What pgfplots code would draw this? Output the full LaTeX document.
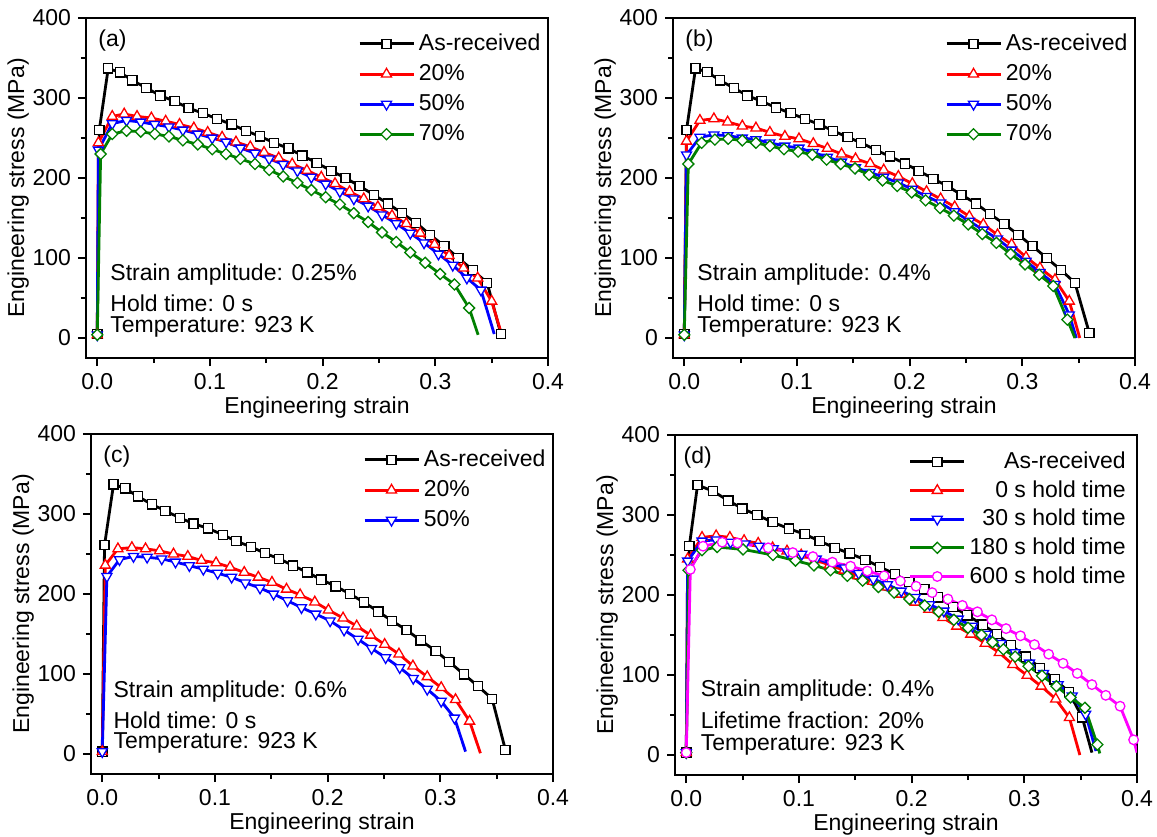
\documentclass[border=0pt]{standalone}
\usepackage{pgfplots}
\pgfplotsset{compat=1.18}
\usepackage{fontspec}
\setmainfont{Liberation Sans}
\newcommand\pfont{\fontsize{11.5}{13.8}\selectfont}
\definecolor{cgreen}{RGB}{0,128,0}
\definecolor{cmag}{RGB}{255,0,255}

\tikzset{note/.style={anchor=west, font=\pfont, inner sep=0pt}}
\pgfplotsset{
  panel/.style={
    scale only axis, width=231pt, height=170pt,
    xmin=-0.01, xmax=0.4, ymin=-25, ymax=400,
    xtick={0,0.1,0.2,0.3,0.4}, ytick={0,100,200,300,400},
    minor x tick num=1, minor y tick num=1,
    tick align=outside, tick pos=left,
    major tick length=4pt, minor tick length=2.5pt,
    axis line style={line width=1pt},
    tick style={black, line width=0.9pt},
    xticklabel style={/pgf/number format/.cd, fixed, fixed zerofill, precision=1},
    /pgf/number format/assume math mode=true,
    tick label style={font=\pfont},
    label style={font=\pfont},
    xlabel={Engineering strain}, ylabel={Engineering stress (MPa)},
    xlabel style={at={(axis description cs:0.5,-0.145)}, anchor=center},
    ylabel style={at={(axis description cs:-0.147,0.5)}, anchor=center},
    legend style={draw=none, fill=none, font=\pfont, inner sep=0pt,
      at={(rel axis cs:0.993,0.966)}, anchor=north east, row sep=1.5pt},
    legend cell align=left,
    legend image code/.code={\draw[mark repeat=2,mark phase=2,##1]
      plot coordinates {(0pt,0pt) (13.5pt,0pt) (27pt,0pt)};},
  },
  base/.style={line width=1.4pt},
  mk/.style={mark options={solid, fill=white, line width=0.65pt, #1}},
  mk/.default={},
  sAR/.style={base, black, mark=square*, mark size=2.3pt, mk},
  s20/.style={base, red, mark=triangle*, mark size=2.9pt, mk},
  s50/.style={base, blue, mark=triangle*, mark size=2.9pt, mk={rotate=180}},
  s70/.style={base, cgreen, mark=square*, mark size=1.95pt, mk={rotate=45}},
  s600/.style={base, cmag, mark=*, mark size=2.4pt, mk},
  tail/.style={base, #1, forget plot, no marks},
}

\begin{document}
\begin{tikzpicture}
\useasboundingbox (0,0) rectangle (578.5pt,-418pt);

% ---------------- (a) strain amplitude 0.25 %
\begin{axis}[panel, at={(43pt,-179pt)}, anchor=south west]
\addplot[sAR] coordinates {(0,5) (0.0018,260) (0.0097,337) (0.020,332) (0.0312,322) (0.0436,312.5) (0.056,303) (0.0686,296) (0.081,287.5) (0.0937,281) (0.1063,274) (0.1193,267) (0.132,259) (0.1446,252) (0.157,244) (0.1697,237) (0.182,228) (0.1947,219) (0.2077,209) (0.2203,200) (0.2327,190) (0.2454,179) (0.258,168) (0.2704,156) (0.283,144) (0.2954,129) (0.308,115) (0.3205,100) (0.3331,85) (0.346,69) (0.3582,5)};
\addlegendentry{As-received}
\addplot[tail=red] coordinates {(0.35,46) (0.3588,5)};
\addplot[s20] coordinates {(0,4) (0.001,244) (0.0133,277) (0.0239,280) (0.0353,277) (0.048,275) (0.0607,271) (0.073,267) (0.0857,262.5) (0.098,257) (0.1108,251) (0.1231,245) (0.1358,239) (0.148,232) (0.161,225) (0.173,217.5) (0.186,209.6) (0.1988,201) (0.211,193) (0.2239,183) (0.2365,174) (0.249,164) (0.2616,153) (0.2742,143) (0.2866,131) (0.2993,117) (0.3122,103) (0.325,87.5) (0.3376,75) (0.35,46)};
\addlegendentry{20\%}
\addplot[tail=blue] coordinates {(0.3405,60) (0.3523,5)};
\addplot[s50] coordinates {(0,4) (0.001,235) (0.0133,268) (0.026,272) (0.0386,270) (0.051,267) (0.0636,264) (0.076,260) (0.0892,255) (0.102,250) (0.1143,245) (0.127,237.5) (0.14,231) (0.1526,224) (0.165,217) (0.1776,209) (0.19,201) (0.2027,192.5) (0.2153,183) (0.2277,174) (0.2404,165) (0.2527,154) (0.2654,143) (0.2778,131) (0.29,119) (0.3028,105) (0.3155,91) (0.328,75) (0.3405,60)};
\addlegendentry{50\%}
\addplot[tail=cgreen] coordinates {(0.33,37.5) (0.338,4)};
\addplot[s70] coordinates {(0,4) (0.003,230) (0.0133,255) (0.026,259) (0.0386,258) (0.051,255) (0.0636,252) (0.076,247) (0.0892,242) (0.102,236) (0.1143,230) (0.127,224) (0.14,217.5) (0.1526,210) (0.165,202) (0.1776,194) (0.19,185) (0.2027,176) (0.2153,167) (0.2277,156) (0.2404,145) (0.2527,132) (0.2654,120) (0.2778,107) (0.291,94) (0.3043,80) (0.317,67) (0.33,37.5)};
\addlegendentry{70\%}
\node[note] at (rel axis cs:0.026,0.935) {(a)};
\node[note] at (rel axis cs:0.052,0.244) {Strain amplitude: 0.25\%};
\node[note] at (rel axis cs:0.052,0.162) {Hold time: 0 s};
\node[note] at (rel axis cs:0.052,0.091) {Temperature: 923 K};
\end{axis}

% ---------------- (b) strain amplitude 0.4 %
\begin{axis}[panel, at={(336.5pt,-179pt)}, anchor=south west]
\addplot[sAR] coordinates {(0,5) (0.002,260) (0.010,337) (0.0204,332.5) (0.0317,322) (0.044,312.5) (0.056,303) (0.0686,296) (0.0814,288) (0.0944,281) (0.107,274) (0.1198,267) (0.1322,259) (0.145,251) (0.157,244) (0.170,235) (0.1825,227) (0.196,218) (0.208,209) (0.221,199) (0.2334,190) (0.246,179) (0.259,168) (0.2713,155) (0.284,142.5) (0.2964,129) (0.309,115) (0.3216,100) (0.3343,85) (0.3467,69) (0.3595,6)};
\addlegendentry{As-received}
\addplot[tail=red] coordinates {(0.3417,46) (0.351,0)};
\addplot[s20] coordinates {(0,4) (0.002,246) (0.0139,272) (0.0263,274) (0.0385,270) (0.0515,265) (0.0636,262.5) (0.076,257) (0.0893,252) (0.1018,249) (0.1145,243) (0.127,237) (0.1396,230) (0.152,224) (0.165,218) (0.177,210) (0.19,202) (0.2024,193) (0.215,183) (0.2275,174) (0.240,164) (0.253,152) (0.2654,142) (0.278,129) (0.2905,117) (0.3033,101) (0.3157,87.5) (0.329,73) (0.3417,46)};
\addlegendentry{20\%}
\addplot[tail=blue] coordinates {(0.3417,29) (0.348,0)};
\addplot[s50] coordinates {(0,4) (0.002,229) (0.0139,251) (0.0263,254) (0.0385,253) (0.0515,250) (0.0636,248) (0.076,244) (0.0893,240) (0.1018,237.5) (0.1145,232) (0.127,226) (0.1396,220) (0.152,213) (0.165,207) (0.177,201) (0.19,194) (0.2024,186) (0.215,177) (0.2275,169) (0.240,158) (0.253,146) (0.2654,135) (0.278,124) (0.2905,110) (0.3033,96) (0.3157,82) (0.329,67) (0.3417,29)};
\addlegendentry{50\%}
\addplot[tail=cgreen] coordinates {(0.340,23) (0.3467,0)};
\addplot[s70] coordinates {(0,4) (0.0036,217.5) (0.0154,244) (0.0272,248) (0.039,249) (0.0515,247) (0.0636,244) (0.076,240) (0.0885,236) (0.101,233) (0.1136,229) (0.1263,223) (0.1388,217.5) (0.1515,212) (0.164,204) (0.176,197) (0.189,190) (0.2018,182) (0.2142,172) (0.227,162.5) (0.2393,153) (0.252,142) (0.2645,130) (0.277,119) (0.2896,105) (0.3024,92) (0.315,79) (0.3275,65) (0.340,23)};
\addlegendentry{70\%}
\node[note] at (rel axis cs:0.026,0.935) {(b)};
\node[note] at (rel axis cs:0.052,0.244) {Strain amplitude: 0.4\%};
\node[note] at (rel axis cs:0.052,0.162) {Hold time: 0 s};
\node[note] at (rel axis cs:0.052,0.091) {Temperature: 923 K};
\end{axis}

% ---------------- (c) strain amplitude 0.6 %
\begin{axis}[panel, at={(45.5pt,-387pt)}, anchor=south west]
\addplot[sAR] coordinates {(0,3) (0.002,261) (0.010,337) (0.0204,332) (0.0316,322) (0.044,312) (0.056,304) (0.069,295) (0.081,288) (0.094,282) (0.107,274) (0.119,266) (0.132,259) (0.1443,251) (0.157,244) (0.1694,235.5) (0.182,227) (0.1945,218) (0.2072,209.6) (0.22,200) (0.2323,189.5) (0.245,178) (0.257,166.5) (0.270,155) (0.2825,142) (0.2958,129) (0.308,115) (0.321,99.6) (0.3333,85) (0.346,69) (0.3578,5)};
\addlegendentry{As-received}
\addplot[tail=red] coordinates {(0.326,41) (0.3356,1)};
\addplot[s20] coordinates {(0,3) (0.0027,236) (0.0139,256.5) (0.0263,258) (0.0384,256.5) (0.0508,254) (0.0632,250) (0.0759,247) (0.088,242) (0.101,239) (0.1134,233.5) (0.126,227) (0.1385,221) (0.1506,214.6) (0.1635,206) (0.1756,199) (0.1886,190) (0.2007,180) (0.2137,170) (0.2258,160) (0.2382,148.5) (0.2506,137) (0.2633,125) (0.2757,110) (0.2884,96.6) (0.3008,83) (0.3135,68) (0.326,41)};
\addlegendentry{20\%}
\addplot[tail=blue] coordinates {(0.3126,45) (0.3224,3)};
\addplot[s50] coordinates {(0,3) (0.0041,222) (0.0153,243) (0.0277,247) (0.0398,246) (0.0528,244) (0.065,240) (0.0773,235.5) (0.0897,231) (0.1024,226) (0.1148,221) (0.127,214) (0.14,207.5) (0.152,200) (0.1644,191.6) (0.1768,183) (0.1895,175) (0.2022,166.5) (0.2146,155) (0.227,143.5) (0.239,132) (0.2515,120.5) (0.264,108) (0.276,94.6) (0.2884,81) (0.3008,66) (0.3126,45)};
\addlegendentry{50\%}
\node[note] at (rel axis cs:0.026,0.935) {(c)};
\node[note] at (rel axis cs:0.048,0.242) {Strain amplitude: 0.6\%};
\node[note] at (rel axis cs:0.048,0.159) {Hold time: 0 s};
\node[note] at (rel axis cs:0.048,0.091) {Temperature: 923 K};
\end{axis}

% ---------------- (d) hold time series
\begin{axis}[panel, at={(337.5pt,-387.5pt)}, anchor=south west, legend cell align=right,
  legend style={row sep=0.5pt, at={(rel axis cs:0.985,0.963)}}]
\addplot[tail=black] coordinates {(0.3514,47) (0.36,3)};
\addplot[sAR] coordinates {(0,3) (0.0027,261) (0.010,337.5) (0.0235,330) (0.0373,318) (0.0498,308) (0.063,300) (0.0766,291) (0.091,283) (0.105,276) (0.1183,267.5) (0.1317,259) (0.145,252) (0.159,244) (0.172,235) (0.1854,226) (0.198,216) (0.2113,207) (0.2235,197) (0.237,185) (0.2495,174.6) (0.263,163) (0.2757,151) (0.288,137) (0.3016,123) (0.314,109) (0.327,94.6) (0.3395,79) (0.3514,47)};
\addlegendentry{As-received}
\addplot[tail=red] coordinates {(0.34,46.7) (0.3493,0)};
\addplot[s20] coordinates {(0,3) (0.0012,245) (0.014,272) (0.0265,274) (0.0387,272) (0.0513,268) (0.0638,264.6) (0.0766,259) (0.0894,255) (0.102,250) (0.1145,244) (0.127,237.5) (0.14,231) (0.1526,224) (0.1654,217) (0.1785,210) (0.1908,201) (0.2033,191) (0.2152,182) (0.2277,171.7) (0.24,161) (0.2525,151) (0.2653,139.6) (0.2778,128) (0.2897,113) (0.3025,99.6) (0.315,86) (0.3279,70) (0.34,46.7)};
\addlegendentry{0 s hold time}
\addplot[tail=blue] coordinates {(0.3544,51) (0.3636,5)};
\addplot[s50] coordinates {(0,3) (0.0012,242.5) (0.014,267.5) (0.0265,269) (0.0393,266) (0.0522,264) (0.0647,261) (0.0772,258) (0.09,254) (0.1025,251) (0.1153,245) (0.128,239.6) (0.1407,234) (0.153,227) (0.166,220) (0.1785,213) (0.1908,205) (0.2033,197) (0.216,188) (0.2286,180) (0.2414,170) (0.254,161) (0.2665,151) (0.2793,139.6) (0.2918,128) (0.3046,115) (0.317,102) (0.33,88) (0.3425,74) (0.3544,51)};
\addlegendentry{30 s hold time}
\addplot[tail=cgreen] coordinates {(0.3648,13) (0.367,2)};
\addplot[s70] coordinates {(0,3) (0.002,231) (0.014,256) (0.0274,260) (0.0504,257) (0.077,250) (0.0969,243) (0.1133,237) (0.128,231) (0.143,224) (0.1565,218) (0.1705,210) (0.1845,203) (0.198,195) (0.2116,187) (0.224,179) (0.2375,169) (0.25,159) (0.262,150) (0.2718,141) (0.2814,132) (0.2918,123) (0.3037,111) (0.3157,99) (0.3285,86) (0.341,72) (0.3538,59) (0.3648,13)};
\addlegendentry{180 s hold time}
\addplot[tail=cmag] coordinates {(0.397,19) (0.4,3)};
\addplot[s600] coordinates {(0,3) (0.0036,232) (0.0149,261) (0.0319,266) (0.0453,265) (0.0727,259) (0.0945,253) (0.1124,248) (0.1297,241) (0.1458,236) (0.1607,230) (0.1756,224) (0.19,217.5) (0.2039,211) (0.2182,203) (0.2322,195) (0.245,187) (0.2584,179) (0.2712,169) (0.2838,158) (0.2966,149) (0.309,138) (0.3216,126) (0.3344,114.6) (0.347,102) (0.36,88) (0.3723,74.6) (0.385,61) (0.397,19)};
\addlegendentry{600 s hold time}
\node[note] at (rel axis cs:0.018,0.935) {(d)};
\node[note] at (rel axis cs:0.055,0.247) {Strain amplitude: 0.4\%};
\node[note] at (rel axis cs:0.055,0.162) {Lifetime fraction: 20\%};
\node[note] at (rel axis cs:0.055,0.088) {Temperature: 923 K};
\end{axis}
\end{tikzpicture}
\end{document}
